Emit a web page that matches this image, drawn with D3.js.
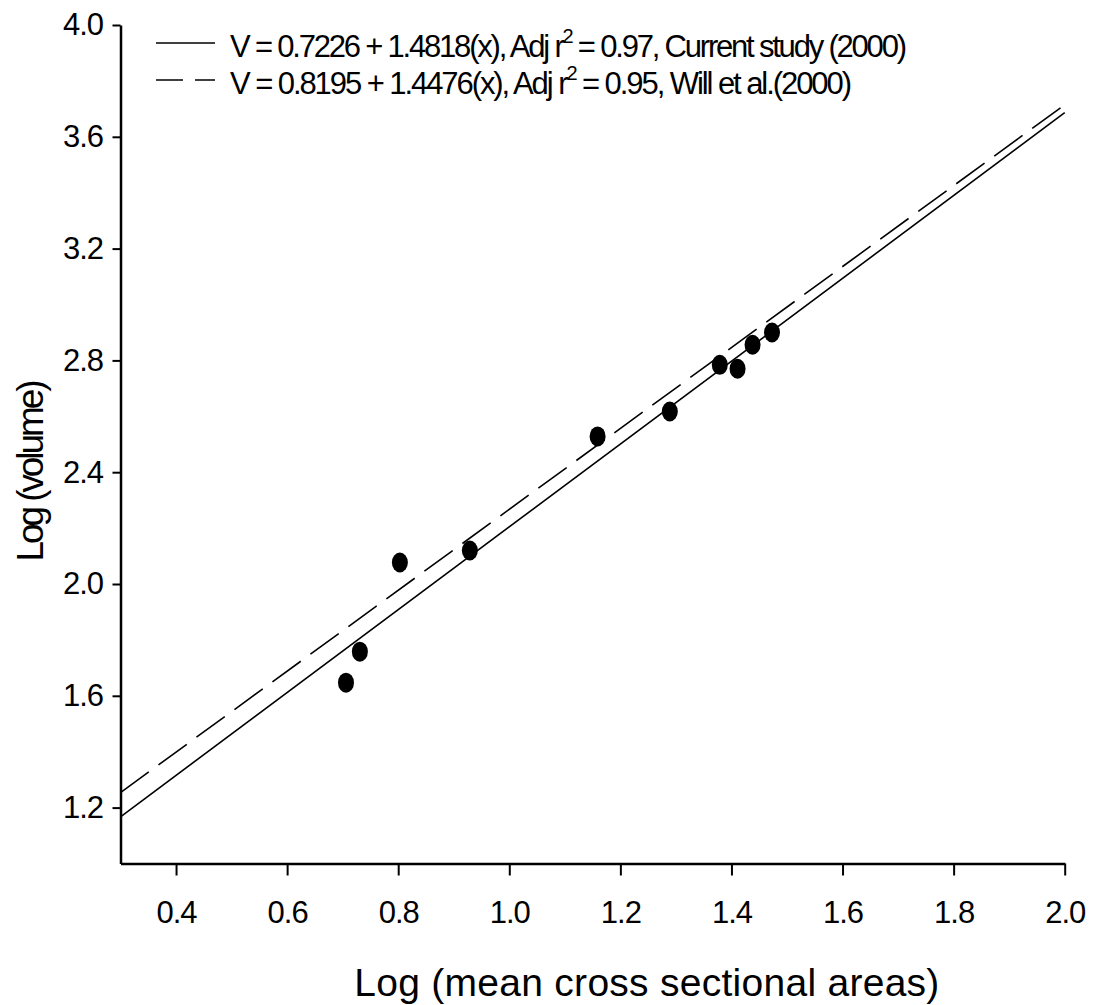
<!DOCTYPE html>
<html>
<head>
<meta charset="utf-8">
<script src="https://cdn.jsdelivr.net/npm/d3@7"></script>
<style>
  body { margin: 0; background: #fff; }
  text { font-family: "Liberation Sans", Arial, sans-serif; fill: #000; }
</style>
</head>
<body>
<svg id="chart" width="1094" height="1005"></svg>
<script>
// ---------- data ---------- //
var logArea   = [0.706, 0.731, 0.803, 0.929, 1.159, 1.289, 1.379, 1.411, 1.438, 1.473];
var logVolume = [1.647, 1.758, 2.077, 2.120, 2.528, 2.617, 2.784, 2.770, 2.856, 2.900];

// fitted lines: intercept, slope
var fitCurrent = [0.7226, 1.4818];
var fitWill    = [0.8195, 1.4476];

var xTicks = [0.4, 0.6, 0.8, 1.0, 1.2, 1.4, 1.6, 1.8, 2.0];
var yTicks = [1.2, 1.6, 2.0, 2.4, 2.8, 3.2, 3.6, 4.0];

var legendLabels = [
  ["V = 0.7226 + 1.4818(x), Adj r", "2", " = 0.97, Current study (2000)"],
  ["V = 0.8195 + 1.4476(x), Adj r", "2", " = 0.95, Will et al.(2000)"]
];

// ---------- canvas ---------- //
var svg = d3.select("#chart");

var x = d3.scaleLinear().domain([0.3, 2.0]).range([120.5, 1064.7]);
var y = d3.scaleLinear().domain([1.0, 4.0]).range([863.5, 25]);

// squeeze / stretch a text to the width it has in the figure
function fitWidth(sel, target) {
  var node = sel.node();
  var n = node.getNumberOfChars();
  var w = node.getComputedTextLength();
  sel.style("letter-spacing", ((target - w) / (n - 1)) + "px");
}

// --- axes --- //
var xAxis = svg.append("g")
    .attr("transform", "translate(0," + y(1.0) + ")")
    .call(d3.axisBottom(x).tickValues(xTicks).tickFormat(d3.format(".1f"))
      .tickSize(12).tickSizeOuter(0).tickPadding(25));

var yAxis = svg.append("g")
    .attr("transform", "translate(" + x(0.3) + ",0)")
    .call(d3.axisLeft(y).tickValues(yTicks).tickFormat(d3.format(".1f"))
      .tickSize(8).tickSizeOuter(0).tickPadding(9.5));

[xAxis, yAxis].forEach(function(g) {
  g.attr("font-size", null).attr("font-family", null);
  g.select(".domain").attr("stroke", "#000").attr("stroke-width", 2.5);
  g.selectAll(".tick line").attr("stroke", "#000").attr("stroke-width", 2);
  g.selectAll(".tick text")
    .style("font-size", "31px")
    .style("letter-spacing", "-1px")
    .attr("fill", "#000");
});

// --- regression lines --- //
var line = d3.line().x(function(d) { return x(d[0]); }).y(function(d) { return y(d[1]); });

function fitPoints(fit) {
  return [0.3, 2.0].map(function(v) { return [v, fit[0] + fit[1] * v]; });
}

svg.append("path")
    .attr("d", line(fitPoints(fitCurrent)))
    .attr("fill", "none")
    .attr("stroke", "#000")
    .attr("stroke-width", 1.6);

svg.append("path")
    .attr("d", line(fitPoints(fitWill)))
    .attr("fill", "none")
    .attr("stroke", "#000")
    .attr("stroke-width", 1.6)
    .attr("stroke-dasharray", "35,12");

// --- points --- //
svg.append("g").selectAll("ellipse")
    .data(logArea.map(function(v, i) { return [v, logVolume[i]]; }))
    .join("ellipse")
    .attr("cx", function(d) { return x(d[0]); })
    .attr("cy", function(d) { return y(d[1]); })
    .attr("rx", 8)
    .attr("ry", 10)
    .attr("fill", "#000");

// --- legend --- //
var legend = svg.append("g");
var legendY = [43, 80];
var legendDash = [null, "27,12"];
var legendWidth = [677, 622];

legendLabels.forEach(function(parts, i) {
  legend.append("line")
      .attr("x1", 156).attr("x2", 215)
      .attr("y1", legendY[i]).attr("y2", legendY[i])
      .attr("stroke", "#000")
      .attr("stroke-width", 1.6)
      .attr("stroke-dasharray", legendDash[i]);

  var t = legend.append("text")
      .attr("x", 230)
      .attr("y", legendY[i] + 14)
      .style("font-size", "31px");
  t.append("tspan").text(parts[0]);
  t.append("tspan").attr("dy", -14).style("font-size", "20px").text(parts[1]);
  t.append("tspan").attr("dy", 14).text(parts[2]);
  fitWidth(t, legendWidth[i]);
});

// --- axis titles --- //
var xTitle = svg.append("text")
    .attr("x", 647)
    .attr("y", 996)
    .attr("text-anchor", "middle")
    .style("font-size", "39px")
    .text("Log (mean cross sectional areas)");
fitWidth(xTitle, 585);

var yTitle = svg.append("text")
    .attr("transform", "translate(43,472) rotate(-90)")
    .attr("text-anchor", "middle")
    .style("font-size", "37px")
    .text("Log (volume)");
fitWidth(yTitle, 182);
</script>
</body>
</html>
